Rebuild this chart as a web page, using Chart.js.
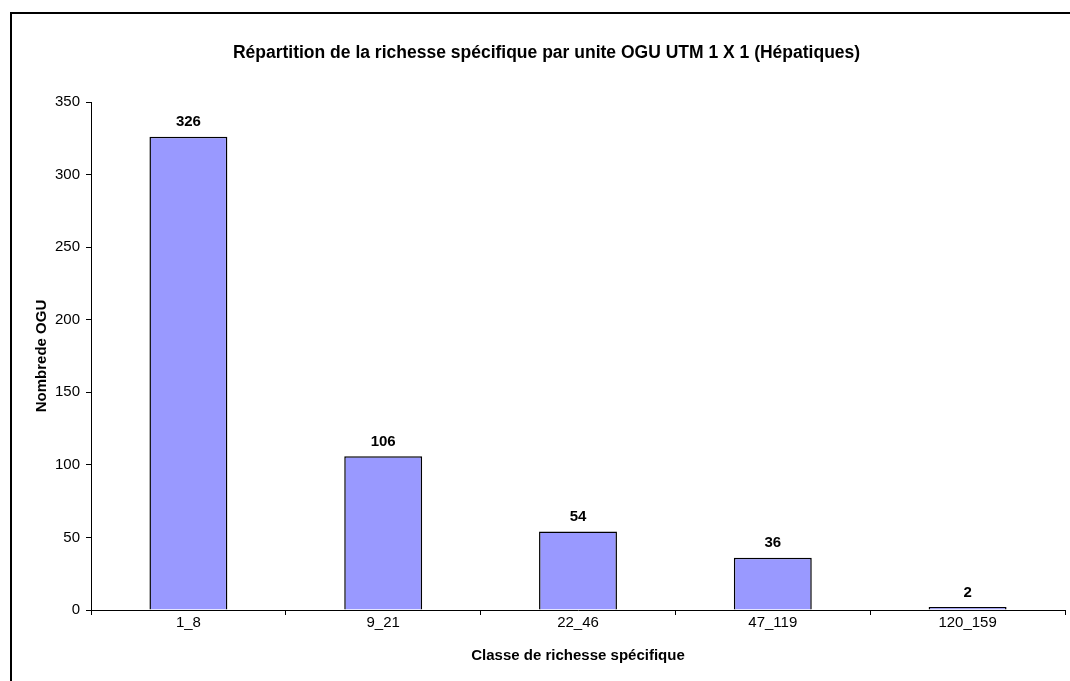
<!DOCTYPE html>
<html>
<head>
<meta charset="utf-8">
<script src="https://cdn.jsdelivr.net/npm/chart.js@4.4.1/dist/chart.umd.min.js"></script>
<style>
    html, body { margin: 0; padding: 0; background: #fff; overflow: hidden; }
    #frame {
        position: absolute; left: 10px; top: 12px;
        width: 1200px; height: 800px;
        border: 2px solid #000;
    }
    #wrap { position: absolute; left: 0; top: 0; width: 1070px; height: 681px; }
</style>
</head>
<body>
<div id="frame"></div>
<div id="wrap"><canvas id="richesseChart"></canvas></div>
<script>
const categories = ['1_8', '9_21', '22_46', '47_119', '120_159'];
const nombreOGU = [326, 106, 54, 36, 2];
const yTicks = [0, 50, 100, 150, 200, 250, 300, 350];

const FONT = "'Liberation Sans', Arial, sans-serif";

// draws the bold value above each bar
const barLabels = {
    id: 'barLabels',
    afterDatasetsDraw(chart) {
        const ctx = chart.ctx;
        const meta = chart.getDatasetMeta(0);
        ctx.save();
        ctx.font = 'bold 15px ' + FONT;
        ctx.fillStyle = '#000';
        ctx.textAlign = 'center';
        ctx.textBaseline = 'bottom';
        meta.data.forEach(function(bar, i) {
            ctx.fillText(String(nombreOGU[i]), bar.x, bar.y - 7);
        });
        ctx.restore();
    }
};

function createChart() {
    const canvas = document.getElementById('richesseChart');
    const ctx = canvas.getContext('2d');

    new Chart(ctx, {
        type: 'bar',
        data: {
            labels: categories,
            datasets: [{
                label: 'Nombre OGU',
                data: nombreOGU,
                backgroundColor: '#9999ff',
                borderColor: '#000000',
                borderWidth: 1.5,
                categoryPercentage: 1,
                barPercentage: 0.4
            }]
        },
        options: {
            responsive: true,
            maintainAspectRatio: false,
            animation: false,
            layout: {
                padding: { left: 28, right: 5, top: 0, bottom: 0 }
            },
            plugins: {
                legend: { display: false },
                tooltip: { enabled: false },
                title: {
                    display: true,
                    text: 'Répartition de la richesse spécifique par unite OGU UTM 1 X 1 (Hépatiques)',
                    color: '#000',
                    font: { family: FONT, size: 17.5, weight: 'bold' },
                    padding: { top: 42.5, bottom: 38.5 }
                }
            },
            scales: {
                x: {
                    afterFit: function(scale) { scale.height = 71; },
                    grid: {
                        offset: true,
                        drawOnChartArea: false,
                        drawTicks: true,
                        tickLength: 5,
                        color: '#000'
                    },
                    border: { color: '#000', width: 1 },
                    ticks: {
                        color: '#000',
                        padding: -1,
                        font: { family: FONT, size: 15 }
                    },
                    title: {
                        display: true,
                        text: 'Classe de richesse spécifique',
                        color: '#000',
                        font: { family: FONT, size: 15, weight: 'bold' },
                        padding: { top: 0, bottom: 16 }
                    }
                },
                y: {
                    min: 0,
                    max: 350,
                    afterFit: function(scale) { scale.width = 63; },
                    afterBuildTicks: function(scale) {
                        scale.ticks = yTicks.map(function(v) { return { value: v }; });
                    },
                    grid: {
                        drawOnChartArea: false,
                        drawTicks: true,
                        tickLength: 5,
                        color: '#000'
                    },
                    border: { color: '#000', width: 1 },
                    ticks: {
                        color: '#000',
                        padding: 6,
                        font: { family: FONT, size: 15 }
                    },
                    title: {
                        display: true,
                        text: 'Nombrede OGU',
                        color: '#000',
                        font: { family: FONT, size: 15, weight: 'bold' },
                        padding: { top: 4.5, bottom: 0 }
                    }
                }
            }
        },
        plugins: [barLabels]
    });
}

createChart();
</script>
</body>
</html>
